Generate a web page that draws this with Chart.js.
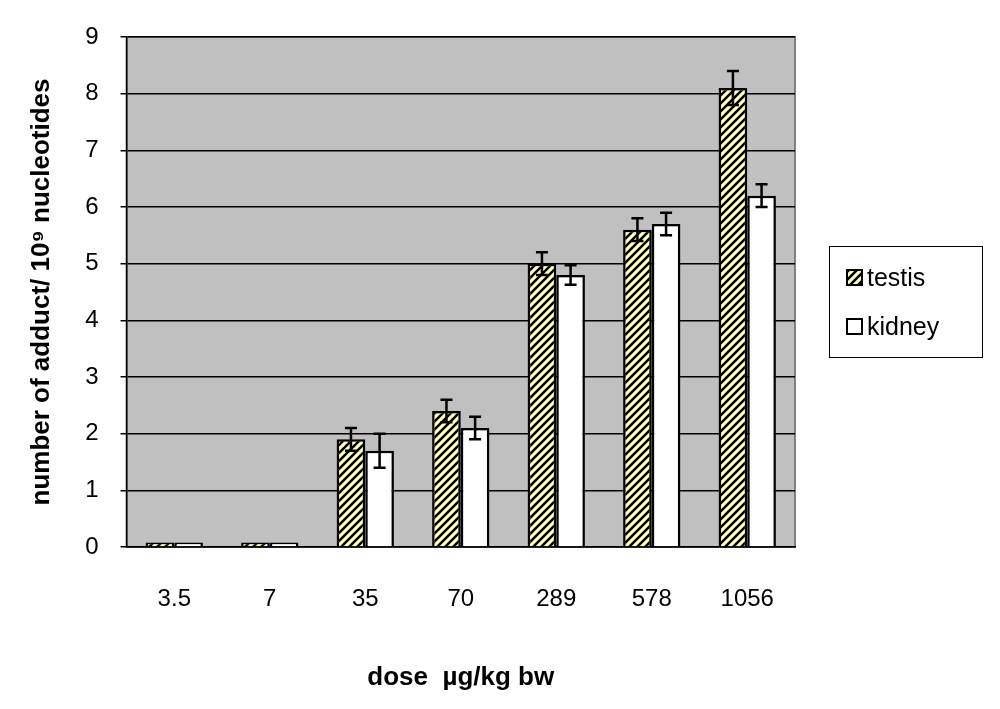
<!DOCTYPE html>
<html>
<head>
<meta charset="utf-8">
<script src="https://cdn.jsdelivr.net/npm/chart.js@4"></script>
<style>
  body { margin: 0; background: #fff; }
  #wrap { position: relative; width: 1000px; height: 709px; }
  #legend { position: absolute; left: 829px; top: 246px; width: 154px; height: 112px;
    border: 1.5px solid #000; font: 25px "Liberation Sans", Arial, sans-serif; box-sizing: border-box; }
  #legend div { position: absolute; left: 16px; display: flex; align-items: center; }
  #legend span.sw { width: 17px; height: 17px; border: 2.5px solid #000; margin-right: 4px; box-sizing: border-box; }
</style>
</head>
<body>
<div id="wrap">
  <canvas id="c" width="1000" height="709"></canvas>
  <div id="legend">
    <div style="top:16px"><span class="sw" id="sw1"></span>testis</div>
    <div style="top:65px"><span class="sw" style="background:#fff"></span>kidney</div>
  </div>
</div>
<script>
const doses = ['3.5', '7', '35', '70', '289', '578', '1056'];
const testis = [0.08, 0.08, 1.9, 2.4, 5.0, 5.6, 8.1];
const testisErr = [0, 0, 0.2, 0.2, 0.2, 0.2, 0.3];
const kidney = [0.08, 0.08, 1.7, 2.1, 4.8, 5.7, 6.2];
const kidneyErr = [0, 0, 0.3, 0.2, 0.17, 0.2, 0.2];

function hatch() {
  const p = document.createElement('canvas');
  p.width = 8; p.height = 8;
  const g = p.getContext('2d');
  g.fillStyle = '#ffffc0';
  g.fillRect(0, 0, 8, 8);
  g.strokeStyle = '#000';
  g.lineWidth = 2.5;
  g.beginPath();
  g.moveTo(-2, 10); g.lineTo(10, -2);
  g.moveTo(-6, 6); g.lineTo(6, -6);
  g.moveTo(2, 14); g.lineTo(14, 2);
  g.stroke();
  return p;
}
const hp = hatch();
document.getElementById('sw1').style.background = 'url(' + hp.toDataURL() + ')';

const errs = [testisErr, kidneyErr];
const errorBars = {
  id: 'errorBars',
  afterDatasetsDraw(chart) {
    const ctx = chart.ctx, y = chart.scales.y;
    ctx.save();
    ctx.strokeStyle = '#000';
    ctx.lineWidth = 2.5;
    chart.data.datasets.forEach((ds, i) => {
      chart.getDatasetMeta(i).data.forEach((bar, j) => {
        const e = errs[i][j];
        if (!e) return;
        const v = ds.data[j];
        const top = y.getPixelForValue(v + e), bot = y.getPixelForValue(v - e);
        ctx.beginPath();
        ctx.moveTo(bar.x, top); ctx.lineTo(bar.x, bot);
        ctx.moveTo(bar.x - 6, top); ctx.lineTo(bar.x + 6, top);
        ctx.moveTo(bar.x - 6, bot); ctx.lineTo(bar.x + 6, bot);
        ctx.stroke();
      });
    });
    ctx.restore();
  }
};
const plotBg = {
  id: 'plotBg',
  beforeDraw(chart) {
    const a = chart.chartArea, ctx = chart.ctx;
    ctx.save();
    ctx.fillStyle = '#c0c0c0';
    ctx.fillRect(a.left, a.top, a.right - a.left, a.bottom - a.top);
    ctx.strokeStyle = '#808080';
    ctx.lineWidth = 2;
    ctx.strokeRect(a.left, a.top, a.right - a.left, a.bottom - a.top);
    ctx.restore();
  }
};

const font = "'Liberation Sans', Arial, sans-serif";
new Chart(document.getElementById('c'), {
  type: 'bar',
  data: {
    labels: doses,
    datasets: [
      { label: 'testis', data: testis, backgroundColor: document.getElementById('c').getContext('2d').createPattern(hp, 'repeat'), borderColor: '#000', borderWidth: 2.5 },
      { label: 'kidney', data: kidney, backgroundColor: '#fff', borderColor: '#000', borderWidth: 2.5 }
    ]
  },
  options: {
    responsive: false,
    animation: false,
    layout: { padding: { top: 37, right: 205, left: 22, bottom: 12 } },
    categoryPercentage: 0.6,
    barPercentage: 1.0,
    plugins: { legend: { display: false }, tooltip: { enabled: false } },
    scales: {
      x: {
        grid: { display: false },
        border: { color: '#000', width: 1.5 },
        ticks: { color: '#000', font: { family: font, size: 24 }, padding: 30 },
        title: { display: true, text: 'dose  µg/kg bw', color: '#000', font: { family: font, size: 26, weight: 'bold' }, padding: { top: 18 } }
      },
      y: {
        min: 0, max: 9,
        ticks: { stepSize: 1, color: '#000', font: { family: font, size: 24 }, padding: 22 },
        grid: { color: '#000', lineWidth: 1.5, tickLength: 6 },
        border: { color: '#000', width: 1.5 },
        title: { display: true, text: 'number of adduct/ 10⁹ nucleotides', color: '#000', font: { family: font, size: 26, weight: 'bold' }, padding: { bottom: 6 } }
      }
    }
  },
  plugins: [plotBg, errorBars]
});
</script>
</body>
</html>
